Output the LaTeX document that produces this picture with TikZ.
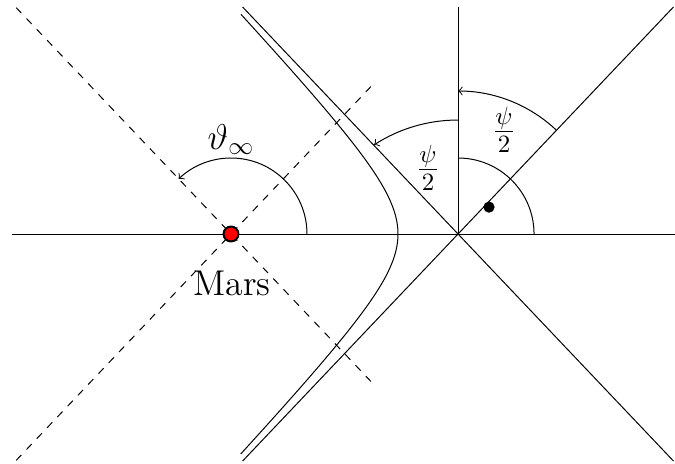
\documentclass[tikz,border=0pt]{standalone}
\usetikzlibrary{calc}
\begin{document}
\begin{tikzpicture}[scale=1.412, every node/.style={font=\Large},
  guide/.style={dashed},
  angarc/.style={->},
  planet/.style={circle,draw,thick,fill=red,inner sep=0pt,minimum size=6pt}]
\useasboundingbox (-2.31,-2.29) rectangle (4.44,2.34);
\coordinate (mars) at (0,0);
\coordinate (ctr) at (2.27,0);
% axes
\draw (-2.19,0) -- (4.44,0);
\draw (ctr) -- ++(0,2.27);
% asymptotes
\draw ($(ctr)+(133.5:3.13)$) -- ($(ctr)+(-46.5:3.13)$);
\draw ($(ctr)+(226.5:3.13)$) -- ($(ctr)+(46.5:3.13)$);
% parallels through Mars
\draw[guide] ($(mars)+(133.5:3.12)$) -- ($(mars)+(-46.5:2.05)$);
\draw[guide] ($(mars)+(226.5:3.12)$) -- ($(mars)+(46.5:2.05)$);
% hyperbola branch
\draw plot[domain=-1.96:1.96,samples=80,smooth] ({2.27-0.6*cosh(\x)},{0.632*sinh(\x)});
% angles
\draw[angarc] ($(mars)+(0.76,0)$) arc[start angle=0,end angle=133.5,radius=0.76];
\node (thinf) at (0,0.945) {$\vartheta_\infty$};
\draw[angarc] ($(ctr)+(46.5:1.43)$) arc[start angle=46.5,end angle=90,radius=1.43];
\draw[angarc] ($(ctr)+(0,1.14)$) arc[start angle=90,end angle=123,radius=1.54];
\node (psir) at (2.73,1.04) {$\frac{\psi}{2}$};
\node (psil) at (1.97,0.66) {$\frac{\psi}{2}$};
\draw ($(ctr)+(0.76,0)$) arc[start angle=0,end angle=90,radius=0.76];
\fill ($(ctr)+(41:0.41)$) circle (1.6pt);
% Mars
\node[planet] (marsdot) at (mars) {};
\node (marslbl) at (0.01,-0.495) {Mars};
\end{tikzpicture}
\end{document}
